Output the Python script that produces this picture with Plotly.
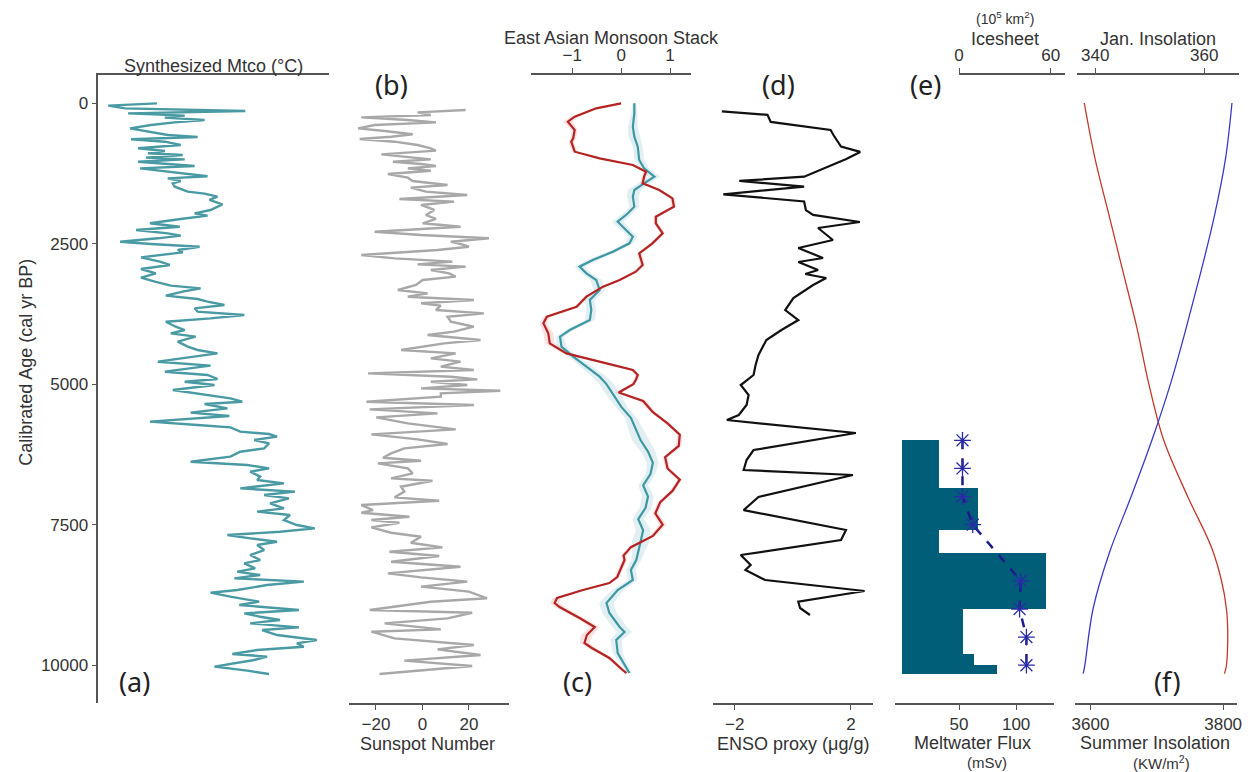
import plotly.graph_objects as go

W, H = 1252, 772

# ---------------- data ----------------
# (a) Synthesized Mtco (°C anomaly)
mtco_age = [6, 47, 95, 142, 184, 225, 261, 302, 344, 391, 451, 510, 569, 605, 646, 688, 747, 806, 854, 895,
            925, 972, 1002, 1044, 1085, 1121, 1162, 1210, 1257, 1304, 1340, 1387, 1429, 1488, 1577, 1613, 1666,
            1725, 1802, 1903, 1962, 2004, 2063, 2140, 2200, 2259, 2318, 2360, 2407, 2467, 2508, 2556, 2615, 2656,
            2745, 2822, 2881, 2953, 3030, 3107, 3178, 3249, 3297, 3356, 3427, 3486, 3534, 3593, 3652, 3712, 3771,
            3830, 3890, 3979, 4038, 4097, 4156, 4245, 4334, 4393, 4453, 4512, 4601, 4672, 4779, 4838, 4909, 4957,
            5016, 5105, 5164, 5253, 5313, 5354, 5431, 5508, 5567, 5668, 5728, 5769, 5846, 5888, 5935, 5994, 6054,
            6143, 6202, 6291, 6380, 6439, 6498, 6558, 6647, 6706, 6765, 6854, 6913, 6973, 7032, 7121, 7210, 7269,
            7328, 7417, 7506, 7565, 7625, 7684, 7743, 7803, 7862, 7951, 8040, 8129, 8188, 8277, 8336, 8396, 8455,
            8514, 8573, 8662, 8710, 8781, 8870, 8929, 9018, 9077, 9137, 9196, 9255, 9326, 9374, 9463, 9552, 9611,
            9671, 9730, 9801, 9848, 9907, 10026, 10097, 10157]
mtco_val = [-0.92, -1.90, -1.56, 0.86, -1.50, -0.36, -0.76, 0.04, -0.56, -1.04, -1.46, -1.10, -0.70, -0.10, -1.44,
            -0.76, -0.44, -1.30, -0.76, -1.10, -0.40, -1.14, -0.36, -1.30, -0.76, -0.16, -1.26, -0.76, -0.36, 0.10,
            -0.70, -0.44, -0.60, -0.56, -0.30, 0.04, 0.30, 0.14, 0.40, 0.16, -0.16, 0.10, -0.44, -1.06, -0.46, -1.34,
            -0.70, -0.44, -0.90, -1.66, -1.04, -0.06, -0.50, -0.40, -1.24, -0.86, -0.66, -1.24, -0.94, -1.24, -0.96,
            -0.64, -0.04, -0.40, -0.74, -0.10, 0.10, 0.44, -0.16, -0.10, 0.84, 0.16, -0.74, -0.54, -0.36, -0.64,
            -0.14, -0.50, -0.30, -0.10, 0.30, -0.16, -0.90, 0.16, -0.76, 0.10, 0.30, -0.36, 0.24, -0.60, -0.10, 0.56,
            0.80, 0.04, 0.50, -0.24, 0.54, -1.06, -0.10, 0.56, 0.76, 1.34, 1.50, 1.04, 1.34, 1.24, 0.76, 0.56, -0.24,
            0.90, 1.34, 0.96, 1.16, 1.10, 1.64, 0.76, 1.86, 1.24, 1.74, 1.36, 1.64, 1.10, 1.76, 1.64, 1.90, 2.26,
            1.56, 0.50, 0.96, 1.50, 1.10, 1.24, 0.96, 1.16, 0.84, 1.06, 0.70, 1.16, 0.64, 2.04, 1.30, 0.70, 0.16,
            0.56, 1.14, 0.74, 1.94, 0.84, 1.16, 1.56, 0.96, 1.94, 1.20, 1.50, 2.30, 1.90, 2.04, 1.10, 0.60, 1.30,
            1.04, 0.24, 0.90, 1.34]

# (b) Sunspot number
sun_age = [125, 166, 213, 255, 302, 344, 391, 451, 498, 557, 599, 640, 688, 747, 806, 848, 913, 961, 1002, 1044,
           1085, 1121, 1162, 1204, 1263, 1328, 1387, 1459, 1506, 1577, 1636, 1708, 1755, 1814, 1903, 1992, 2063,
           2140, 2200, 2289, 2348, 2407, 2467, 2508, 2556, 2615, 2704, 2763, 2822, 2870, 2911, 2970, 3030, 3089,
           3148, 3237, 3326, 3386, 3445, 3504, 3563, 3605, 3682, 3741, 3801, 3890, 3979, 4067, 4127, 4216, 4275,
           4393, 4453, 4542, 4601, 4690, 4749, 4809, 4868, 4915, 4957, 5016, 5075, 5117, 5164, 5223, 5313, 5372,
           5449, 5520, 5591, 5698, 5805, 5894, 5983, 6066, 6143, 6232, 6309, 6362, 6410, 6499, 6588, 6677, 6718,
           6825, 6913, 7014, 7074, 7151, 7240, 7287, 7358, 7417, 7465, 7548, 7643, 7714, 7821, 7904, 7981, 8058,
           8159, 8248, 8366, 8437, 8514, 8603, 8692, 8810, 8870, 9018, 9066, 9166, 9255, 9362, 9404, 9522, 9641,
           9718, 9819, 9919, 10014, 10157]
sun_val = [18.6, -2.1, 3.6, -26.3, -6.3, 5.8, -20.6, -27.7, -16.3, -4.2, -13.5, -27.0, -12.0, -2.1, 3.6, 5.8, -17.7,
           -5.0, 3.6, -12.7, -0.6, 5.8, -6.3, 3.6, -14.9, -6.3, -4.2, 10.8, -5.0, 1.5, 19.3, -9.9, 13.6, -0.6, 5.1,
           1.5, 5.8, 0.1, 16.4, -20.6, -0.6, 28.6, 12.2, 16.4, 20.0, 6.5, -26.3, -12.0, 12.9, -2.1, 18.6, 3.6, 11.5,
           14.3, 0.1, -2.8, -10.6, 2.2, -6.3, 22.1, -0.6, 7.9, 5.8, 26.4, 10.8, 12.2, 22.1, 13.6, 2.2, 25.0, 9.3,
           -9.2, 14.3, 3.6, 16.4, 7.9, 22.1, -23.4, 12.2, 23.6, 3.6, 19.3, -0.6, 33.5, 7.9, 7.9, -24.1, 22.1, -22.7,
           6.5, -19.9, -6.3, 14.3, -22.0, -2.1, 10.8, -7.8, -13.5, -17.0, -0.6, -19.2, -6.3, -4.2, -13.5, 4.3, -9.2,
           -7.8, -12.0, 7.2, -26.3, -21.3, -26.3, -5.6, -22.0, -9.9, -22.0, -13.5, -0.6, -5.0, 8.6, -14.2, 7.2,
           -13.5, 16.4, -14.9, -0.6, 19.3, -0.6, 20.0, 27.8, 3.6, -22.7, 21.4, 10.8, -16.3, 7.9, -22.0, -12.0, 22.1,
           6.5, 25.0, -7.8, 21.4, -18.5]

# (c) East Asian Monsoon Stack
eam_red_age = [6, 95, 243, 332, 480, 628, 688, 866, 984, 1103, 1222, 1310, 1429, 1548, 1696, 1844, 2022, 2140,
               2318, 2496, 2674, 2881, 3001, 3148, 3267, 3445, 3623, 3801, 3919, 4097, 4275, 4453, 4631, 4749,
               4838, 4928, 5000, 5150, 5300, 5500, 5700, 5900, 6100, 6300, 6500, 6700, 6900, 7100, 7300, 7500,
               7700, 7900, 8050, 8129, 8431, 8538, 8662, 8804, 8894, 8965, 9160, 9320, 9463, 9605, 9694, 9872,
               10085, 10139]
eam_red_val = [0.00, -0.51, -0.95, -1.09, -0.95, -0.98, -1.02, -0.95, -0.44, 0.24, 0.51, 0.47, 0.44, 0.78, 1.05,
               1.08, 0.71, 0.71, 0.85, 0.64, 0.37, 0.44, 0.30, -0.03, -0.37, -0.71, -0.91, -1.52, -1.59, -1.49,
               -1.46, -1.12, -0.30, 0.24, 0.34, 0.30, 0.25, -0.05, 0.45, 0.65, 0.95, 1.20, 1.18, 0.90, 0.95, 1.20,
               1.05, 0.80, 0.70, 0.85, 0.65, 0.20, 0.05, 0.07, -0.08, -0.24, -0.78, -1.31, -1.36, -1.26, -0.85,
               -0.54, -0.70, -0.75, -0.60, -0.24, 0.03, 0.11]
eam_red_unc = [0.03, 0.05, 0.08, 0.10, 0.06, 0.06, 0.06, 0.05, 0.05, 0.05, 0.05, 0.06, 0.05, 0.05, 0.05,
               0.06, 0.05, 0.05, 0.05, 0.05, 0.05, 0.05, 0.05, 0.05, 0.05, 0.05, 0.05, 0.07, 0.08, 0.10, 0.10,
               0.08, 0.05, 0.05, 0.05, 0.05, 0.05, 0.08, 0.08, 0.05, 0.05, 0.05, 0.06, 0.05, 0.05, 0.05, 0.05,
               0.05, 0.06, 0.08, 0.06, 0.05, 0.05, 0.05, 0.05, 0.05, 0.05, 0.08, 0.10, 0.10, 0.08, 0.10, 0.12,
               0.10, 0.08, 0.06, 0.05, 0.04]
eam_teal_age = [6, 184, 421, 599, 777, 1014, 1162, 1310, 1429, 1548, 1666, 1844, 1962, 2111, 2259, 2378, 2496,
                2645, 2793, 2911, 3030, 3148, 3326, 3504, 3682, 3860, 4038, 4156, 4334, 4512, 4690, 4868, 5000,
                5200, 5400, 5600, 5800, 6000, 6200, 6400, 6600, 6800, 7000, 7200, 7400, 7600, 7800, 8000, 8129,
                8307, 8485, 8662, 8894, 9071, 9320, 9409, 9552, 9783, 10032, 10139]
eam_teal_val = [0.27, 0.27, 0.24, 0.27, 0.34, 0.37, 0.47, 0.68, 0.47, 0.27, 0.24, 0.27, 0.14, -0.07, 0.10, 0.24,
                0.17, -0.17, -0.58, -0.85, -0.71, -0.51, -0.44, -0.64, -0.61, -0.64, -1.05, -1.25, -1.22, -0.98,
                -0.71, -0.44, -0.30, -0.15, 0.00, 0.20, 0.30, 0.40, 0.55, 0.65, 0.60, 0.45, 0.55, 0.50, 0.35, 0.45,
                0.40, 0.35, 0.31, 0.20, 0.24, -0.07, -0.30, -0.24, -0.03, 0.07, -0.10, -0.07, 0.10, 0.17]
eam_teal_unc = [0.04, 0.06, 0.10, 0.12, 0.10, 0.10, 0.10, 0.12, 0.12, 0.14, 0.12, 0.10, 0.10, 0.12, 0.10, 0.10,
                0.08, 0.10, 0.12, 0.10, 0.10, 0.12, 0.12, 0.10, 0.10, 0.10, 0.08, 0.08, 0.10, 0.10, 0.12, 0.15,
                0.15, 0.15, 0.12, 0.12, 0.15, 0.18, 0.15, 0.12, 0.10, 0.10, 0.12, 0.12, 0.12, 0.15, 0.18, 0.12,
                0.10, 0.10, 0.10, 0.12, 0.15, 0.15, 0.15, 0.15, 0.12, 0.10, 0.06, 0.04]

# (d) ENSO proxy (µg/g)
enso_age = [148, 210, 336, 480, 587, 776, 870, 996, 1310, 1386, 1487, 1625, 1751, 1904, 1990, 2117, 2223, 2437,
            2580, 2757, 2828, 2970, 3042, 3113, 3237, 3469, 3682, 3860, 4038, 4216, 4482, 4660, 4838, 5016, 5194,
            5372, 5550, 5639, 5870, 6172, 6350, 6528, 6617, 7008, 7240, 7595, 7773, 8040, 8218, 8307, 8485, 8680,
            8870, 8982, 9107]
enso_val = [-2.44, -0.87, -0.76, 1.30, 1.42, 1.66, 2.32, 1.84, 0.39, -1.84, 0.39, -2.39, 0.39, 0.45, 0.70, 2.31,
            0.87, 1.38, 0.19, 1.04, 0.19, 0.87, 0.43, 1.15, 0.70, 0.02, -0.26, 0.19, -0.39, -0.91, -1.18, -1.28,
            -1.35, -1.79, -1.52, -1.59, -1.86, -2.27, 2.17, -1.35, -1.59, -1.69, 2.07, -1.18, -1.69, 1.83, 1.66,
            -1.79, -1.45, -1.63, -0.95, 2.47, 0.19, 0.25, 0.59]

# (e) Icesheet blocks (age bounds, extent on the lower scale) and meltwater flux (mSv)
ice_bounds = [6000, 6850, 7600, 8000, 9000, 9800, 10000, 10160]
ice_val = [32, 66, 32, 126, 53, 63, 83]
melt_age = [6000, 6500, 7000, 7500, 8500, 9000, 9500, 10000]
melt_val = [53, 53, 53, 62, 104, 103, 109, 109]

# (f) Insolation
ins_age = [0, 1000, 2000, 3000, 4000, 5000, 6000, 7000, 8000, 9000, 10000, 10150]
summer_ins = [3590.6, 3607.0, 3628.0, 3649.0, 3670.0, 3688.0, 3710.5, 3746.5, 3785.5, 3805.0, 3805.0, 3802.0]
jan_ins = [365.1, 363.9, 361.9, 359.4, 356.7, 353.8, 350.4, 346.6, 342.6, 339.6, 338.1, 337.8]

age_ticks = [0, 2500, 5000, 7500, 10000]

# ---------------- helpers ----------------
def px(x):
    return x / W

def py(y):
    return 1 - y / H

FONT = "Arial, Liberation Sans, sans-serif"
AX = "#555555"
TXT = "#333333"

fig = go.Figure()

# (a)
fig.add_trace(go.Scatter(x=mtco_val, y=mtco_age, mode="lines", line=dict(color="#4A9AA3", width=2.4),
                         xaxis="x", yaxis="y", showlegend=False))
# (b)
fig.add_trace(go.Scatter(x=sun_val, y=sun_age, mode="lines", line=dict(color="#A8A8A8", width=2.4),
                         xaxis="x2", yaxis="y", showlegend=False))

# (c) bands then lines
def band(ages, vals, unc):
    xs = [v - u for v, u in zip(vals, unc)] + [v + u for v, u in zip(vals[::-1], unc[::-1])]
    ys = list(ages) + list(ages[::-1])
    return xs, ys

bx, by = band(eam_teal_age, eam_teal_val, eam_teal_unc)
fig.add_trace(go.Scatter(x=bx, y=by, fill="toself", fillcolor="rgba(170,210,218,0.35)", line=dict(width=0),
                         mode="lines", xaxis="x3", yaxis="y", showlegend=False, hoverinfo="skip"))
bx, by = band(eam_red_age, eam_red_val, eam_red_unc)
fig.add_trace(go.Scatter(x=bx, y=by, fill="toself", fillcolor="rgba(240,170,170,0.35)", line=dict(width=0),
                         mode="lines", xaxis="x3", yaxis="y", showlegend=False, hoverinfo="skip"))
fig.add_trace(go.Scatter(x=eam_teal_val, y=eam_teal_age, mode="lines", line=dict(color="#3E98A3", width=2.2),
                         xaxis="x3", yaxis="y", showlegend=False))
fig.add_trace(go.Scatter(x=eam_red_val, y=eam_red_age, mode="lines", line=dict(color="#B52323", width=2.2),
                         xaxis="x3", yaxis="y", showlegend=False))

# (d)
fig.add_trace(go.Scatter(x=enso_val, y=enso_age, mode="lines", line=dict(color="#111111", width=2.2),
                         xaxis="x4", yaxis="y", showlegend=False))

# (e)
centers = [(a + b) / 2 for a, b in zip(ice_bounds[:-1], ice_bounds[1:])]
heights = [b - a for a, b in zip(ice_bounds[:-1], ice_bounds[1:])]
fig.add_trace(go.Bar(x=ice_val, y=centers, width=heights, orientation="h",
                     marker=dict(color="#005E78", line=dict(width=0)),
                     xaxis="x5", yaxis="y", showlegend=False))
fig.add_trace(go.Scatter(x=melt_val, y=melt_age, mode="lines+markers",
                         line=dict(color="#1B1B8A", width=2.5, dash="dash"),
                         marker=dict(symbol="asterisk-open", size=14, color="#2A2AA8",
                                     line=dict(color="#2A2AA8", width=1.3)),
                         xaxis="x5", yaxis="y", showlegend=False))
fig.add_trace(go.Scatter(x=[], y=[], xaxis="x6", yaxis="y", showlegend=False))

# (f)
fig.add_trace(go.Scatter(x=summer_ins, y=ins_age, mode="lines", line=dict(color="#C0392B", width=1.3, shape="spline"),
                         xaxis="x7", yaxis="y", showlegend=False))
fig.add_trace(go.Scatter(x=jan_ins, y=ins_age, mode="lines", line=dict(color="#3A3AC8", width=1.3, shape="spline"),
                         xaxis="x8", yaxis="y", showlegend=False))

TICKF = dict(family=FONT, size=17, color=TXT)
common = dict(showline=True, linecolor=AX, linewidth=1.5, showgrid=False, zeroline=False,
              ticks="outside", ticklen=5, tickcolor=AX, tickwidth=1.3,
              tickfont=TICKF, anchor="y")

layout = dict(
    width=W, height=H, margin=dict(l=0, r=0, t=0, b=0),
    paper_bgcolor="white", plot_bgcolor="rgba(0,0,0,0)",
    font=dict(family=FONT, color=TXT),
    bargap=0,
    yaxis=dict(domain=[py(703), py(75)], range=[10672, -498], anchor="x", side="left",
               showline=True, linecolor=AX, linewidth=1.5, showgrid=False, zeroline=False,
               ticks="outside", ticklen=5, tickcolor=AX, tickwidth=1.3,
               tickvals=age_ticks, ticktext=[str(t) for t in age_ticks],
               tickfont=TICKF),
    xaxis=dict(common, domain=[px(95), px(327)], range=[-2.10, 2.54], side="top",
               ticks="", showticklabels=False),
    xaxis2=dict(common, domain=[px(348), px(509)], range=[-31.4, 37.4], side="bottom",
                tickvals=[-20, 0, 20]),
    xaxis3=dict(common, domain=[px(531), px(692)], range=[-1.84, 1.43], side="top",
                tickvals=[-1, 0, 1]),
    xaxis4=dict(common, domain=[px(714), px(875)], range=[-2.75, 2.75], side="bottom",
                tickvals=[-2, 2]),
    xaxis5=dict(common, domain=[px(897), px(1058)], range=[-6.5, 133.5], side="bottom",
                tickvals=[50, 100]),
    xaxis6=dict(common, domain=[px(961.5), px(1069)], range=[-0.3, 69.5], side="top",
                tickvals=[0, 60]),
    xaxis7=dict(common, domain=[px(1079), px(1242)], range=[3577, 3821], side="bottom",
                tickvals=[3600, 3800]),
    xaxis8=dict(common, domain=[px(1081), px(1244)], range=[336.7, 366.4], side="top",
                tickvals=[340, 360]),
)
fig.update_layout(**layout)

def note(text, x, y, size=18, angle=0, family=FONT, color=TXT):
    fig.add_annotation(text=text, x=px(x), y=py(y), xref="paper", yref="paper", showarrow=False,
                       xanchor="center", yanchor="middle", textangle=angle,
                       font=dict(family=family, size=size, color=color))

note("Synthesized Mtco (°C)", 211, 66)
note("East Asian Monsoon Stack", 612, 38)
note("(10<sup>5</sup> km<sup>2</sup>)", 1008, 18, size=14)
note("Icesheet", 1008, 39)
note("Jan. Insolation", 1162, 39)
note("Sunspot Number", 427, 744)
note("ENSO proxy (μg/g)", 795, 744)
note("Meltwater Flux", 976, 743)
note("(mSv)", 990, 762, size=15)
note("Summer Insolation", 1159, 743)
note("(KW/m<sup>2</sup>)", 1166, 762, size=15)
note("Calibrated Age (cal yr BP)", 22, 362, size=18, angle=-90)

LBL = "Noto Sans, Open Sans, sans-serif"
for t, x, y in [("(a)", 131, 681), ("(b)", 390, 85), ("(c)", 578, 681),
                ("(d)", 780, 85), ("(e)", 928, 85), ("(f)", 1172, 681)]:
    note(t, x, y, size=27, family=LBL, color="#222222")

fig.write_html("out.html")
